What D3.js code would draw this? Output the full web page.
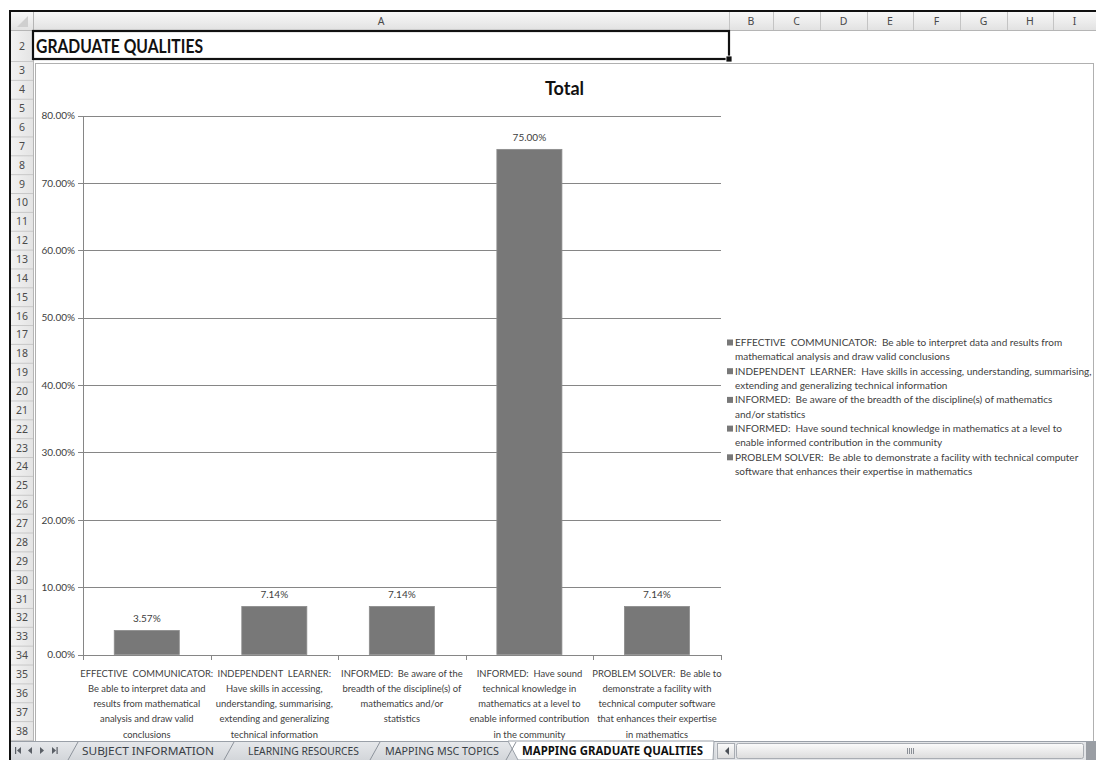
<!DOCTYPE html>
<html>
<head>
<meta charset="utf-8">
<script src="https://cdn.jsdelivr.net/npm/d3@7"></script>
<style>
  html, body { margin: 0; padding: 0; background: #fff; overflow: hidden; }
  svg { display: block; }
  text { white-space: pre; }
</style>
</head>
<body>
<svg id="sheet" width="1096" height="760"></svg>
<script>
// ---------------- data ----------------
const categories = [
  "EFFECTIVE  COMMUNICATOR:  Be able to interpret data and results from mathematical analysis and draw valid conclusions",
  "INDEPENDENT  LEARNER:  Have skills in accessing, understanding, summarising, extending and generalizing technical information",
  "INFORMED:  Be aware of the breadth of the discipline(s) of mathematics and/or statistics",
  "INFORMED:  Have sound technical knowledge in mathematics at a level to enable informed contribution in the community",
  "PROBLEM SOLVER:  Be able to demonstrate a facility with technical computer software that enhances their expertise in mathematics"
];
const values = [3.57, 7.14, 7.14, 75.00, 7.14];
const yTicks = [0, 10, 20, 30, 40, 50, 60, 70, 80];

// wrapped category text under the x axis
const axisLabelLines = [
  ["EFFECTIVE  COMMUNICATOR:", "Be able to interpret data and", "results from mathematical", "analysis and draw valid", "conclusions"],
  ["INDEPENDENT  LEARNER:", "Have skills in accessing,", "understanding, summarising,", "extending and generalizing", "technical information"],
  ["INFORMED:  Be aware of the", "breadth of the discipline(s) of", "mathematics and/or", "statistics"],
  ["INFORMED:  Have sound", "technical knowledge in", "mathematics at a level to", "enable informed contribution", "in the community"],
  ["PROBLEM SOLVER:  Be able to", "demonstrate a facility with", "technical computer software", "that enhances their expertise", "in mathematics"]
];
// wrapped category text in the legend
const legendLines = [
  ["EFFECTIVE  COMMUNICATOR:  Be able to interpret data and results from", "mathematical analysis and draw valid conclusions"],
  ["INDEPENDENT  LEARNER:  Have skills in accessing, understanding, summarising,", "extending and generalizing technical information"],
  ["INFORMED:  Be aware of the breadth of the discipline(s) of mathematics", "and/or statistics"],
  ["INFORMED:  Have sound technical knowledge in mathematics at a level to", "enable informed contribution in the community"],
  ["PROBLEM SOLVER:  Be able to demonstrate a facility with technical computer", "software that enhances their expertise in mathematics"]
];

const chartTitle = "Total";
const sheetTitle = "GRADUATE QUALITIES";
const columnLetters = ["A", "B", "C", "D", "E", "F", "G", "H", "I"];
const rowNumbers = d3.range(2, 39);
const sheetTabs = ["SUBJECT INFORMATION", "LEARNING RESOURCES", "MAPPING MSC TOPICS", "MAPPING GRADUATE QUALITIES"];
const activeTab = 3;

// ---------------- drawing ----------------
const W = 1096, H = 760;
const svg = d3.select("#sheet");
const chartFont = "Lato, 'Open Sans', sans-serif";
const uiFont = "'Noto Sans', 'DejaVu Sans', sans-serif";
const ink = "#404040";
const barFill = "#787878";

const defs = svg.append("defs");
const hdrGrad = defs.append("linearGradient").attr("id", "hdr").attr("x1", 0).attr("y1", 0).attr("x2", 0).attr("y2", 1);
hdrGrad.append("stop").attr("offset", "0%").attr("stop-color", "#f8f8f8");
hdrGrad.append("stop").attr("offset", "100%").attr("stop-color", "#e2e2e2");
const rowGrad = defs.append("linearGradient").attr("id", "rowhdr").attr("x1", 0).attr("y1", 0).attr("x2", 1).attr("y2", 0);
rowGrad.append("stop").attr("offset", "0%").attr("stop-color", "#f2f2f2");
rowGrad.append("stop").attr("offset", "100%").attr("stop-color", "#e4e4e4");
const tabGrad = defs.append("linearGradient").attr("id", "tabbar").attr("x1", 0).attr("y1", 0).attr("x2", 0).attr("y2", 1);
tabGrad.append("stop").attr("offset", "0%").attr("stop-color", "#e6e8eb");
tabGrad.append("stop").attr("offset", "100%").attr("stop-color", "#d3d6da");
const thumbGrad = defs.append("linearGradient").attr("id", "thumb").attr("x1", 0).attr("y1", 0).attr("x2", 0).attr("y2", 1);
thumbGrad.append("stop").attr("offset", "0%").attr("stop-color", "#fbfbfb");
thumbGrad.append("stop").attr("offset", "100%").attr("stop-color", "#dcdcdc");

svg.append("rect").attr("width", W).attr("height", H).attr("fill", "#fff");

// --- window frame ---
svg.append("rect").attr("x", 9).attr("y", 10).attr("width", W - 9).attr("height", 2).attr("fill", "#111");
svg.append("rect").attr("x", 9).attr("y", 10).attr("width", 2).attr("height", H - 10).attr("fill", "#111");

// --- column headers ---
const colEdges = [33, 729, 773, 820, 867, 913, 960, 1007, 1053, 1100];
const colHdrTop = 12, colHdrBottom = 30;
svg.append("rect").attr("x", 11).attr("y", colHdrTop).attr("width", W - 11).attr("height", colHdrBottom - colHdrTop)
  .attr("fill", "url(#hdr)");
svg.append("line").attr("x1", 11).attr("x2", W).attr("y1", colHdrBottom + 0.5).attr("y2", colHdrBottom + 0.5)
  .attr("stroke", "#b5b5b5");
svg.selectAll("line.coldiv").data(colEdges).join("line").attr("class", "coldiv")
  .attr("x1", d => d + 0.5).attr("x2", d => d + 0.5).attr("y1", colHdrTop).attr("y2", colHdrBottom)
  .attr("stroke", "#c4c4c4");
svg.selectAll("text.col").data(columnLetters).join("text").attr("class", "col")
  .attr("x", (d, i) => (colEdges[i] + Math.min(colEdges[i + 1], W)) / 2)
  .attr("y", 25).attr("text-anchor", "middle")
  .attr("font-family", uiFont).attr("font-size", 10.5).attr("fill", "#4a4a4a").text(d => d);
// corner triangle
svg.append("path").attr("d", "M28,16 L28,27 L17,27 Z").attr("fill", "#cfcfcf");

// --- row headers ---
const row2Top = 31, row3Top = 61, rowH = 18.86;
const rowTop = r => r === 2 ? row2Top : row3Top + (r - 3) * rowH;
const rowBottom = r => r === 2 ? row3Top : row3Top + (r - 2) * rowH;
svg.append("rect").attr("x", 11).attr("y", row2Top).attr("width", 22).attr("height", H - row2Top)
  .attr("fill", "url(#rowhdr)");
svg.append("line").attr("x1", 33.5).attr("x2", 33.5).attr("y1", colHdrTop).attr("y2", H).attr("stroke", "#b5b5b5");
svg.selectAll("line.rowdiv").data(rowNumbers).join("line").attr("class", "rowdiv")
  .attr("x1", 11).attr("x2", 33).attr("y1", d => rowBottom(d) + 0.5).attr("y2", d => rowBottom(d) + 0.5)
  .attr("stroke", "#c8c8c8");
svg.selectAll("text.row").data(rowNumbers).join("text").attr("class", "row")
  .attr("x", 22).attr("y", d => (rowTop(d) + rowBottom(d)) / 2 + 4).attr("text-anchor", "middle")
  .attr("font-family", uiFont).attr("font-size", 10.5).attr("fill", "#4a4a4a").text(d => d);

// --- cell A2 with heading ---
svg.append("rect").attr("x", 33).attr("y", 31).attr("width", 696).attr("height", 28)
  .attr("fill", "#fff").attr("stroke", "#111").attr("stroke-width", 2.2);
svg.append("rect").attr("x", 726).attr("y", 56).attr("width", 6).attr("height", 6).attr("fill", "#111")
  .attr("stroke", "#fff").attr("stroke-width", 0.8);
svg.append("text").attr("x", 36).attr("y", 53).attr("font-family", chartFont).attr("font-weight", 700)
  .attr("font-size", 18.5).attr("fill", "#111").attr("textLength", 167).attr("lengthAdjust", "spacingAndGlyphs")
  .text(sheetTitle);

// --- chart area ---
svg.append("rect").attr("x", 35.5).attr("y", 63.5).attr("width", 1058).attr("height", 720)
  .attr("fill", "#fff").attr("stroke", "#b0b0b0");

svg.append("text").attr("x", 564.5).attr("y", 95).attr("text-anchor", "middle")
  .attr("font-family", chartFont).attr("font-weight", 700).attr("font-size", 18).attr("fill", "#111")
  .text(chartTitle);

const plot = { left: 83, right: 720.7, top: 115.7, bottom: 654.5 };
const y = d3.scaleLinear().domain([0, 80]).range([plot.bottom, plot.top]);
const x = d3.scaleBand().domain(categories).range([plot.left, plot.right])
  .paddingInner(0.49).paddingOuter(0.245);
const edges = d3.scaleLinear().domain([0, categories.length]).range([plot.left, plot.right]);

// gridlines
svg.append("g").attr("transform", `translate(${plot.left},0)`)
  .call(d3.axisLeft(y).tickValues(yTicks).tickSize(-(plot.right - plot.left)).tickFormat(""))
  .call(g => g.select(".domain").remove())
  .call(g => g.selectAll(".tick line").attr("stroke", "#868686").attr("shape-rendering", "crispEdges"));

// bars
svg.append("g").selectAll("rect").data(values).join("rect")
  .attr("x", (d, i) => x(categories[i]))
  .attr("width", x.bandwidth())
  .attr("y", d => y(d))
  .attr("height", d => y(0) - y(d))
  .attr("fill", barFill).attr("stroke", "#8c8c8c").attr("stroke-width", 0.8);

// value labels
svg.append("g").selectAll("text").data(values).join("text")
  .attr("x", (d, i) => x(categories[i]) + x.bandwidth() / 2)
  .attr("y", d => y(d) - 8.5)
  .attr("text-anchor", "middle").attr("font-family", chartFont).attr("font-size", 10).attr("fill", ink)
  .text(d => d3.format(".2f")(d) + "%");

// y axis
svg.append("g").attr("transform", `translate(${plot.left},0)`)
  .call(d3.axisLeft(y).tickValues(yTicks).tickSize(5).tickPadding(3).tickFormat(d => d3.format(".2f")(d) + "%"))
  .call(g => g.select(".domain").attr("stroke", "#868686").attr("shape-rendering", "crispEdges"))
  .call(g => g.selectAll(".tick line").attr("stroke", "#868686").attr("shape-rendering", "crispEdges"))
  .call(g => g.selectAll(".tick text").attr("font-family", chartFont).attr("font-size", 10).attr("fill", ink));

// x axis with ticks on category boundaries
svg.append("g").attr("transform", `translate(0,${plot.bottom})`)
  .call(d3.axisBottom(edges).tickValues(d3.range(0, categories.length + 1)).tickSize(5).tickSizeOuter(0).tickFormat(""))
  .call(g => g.select(".domain").attr("stroke", "#868686").attr("shape-rendering", "crispEdges"))
  .call(g => g.selectAll(".tick line").attr("stroke", "#868686").attr("shape-rendering", "crispEdges"));

// category labels
const catLabels = svg.append("g").selectAll("text").data(axisLabelLines).join("text")
  .attr("text-anchor", "middle").attr("font-family", chartFont).attr("font-size", 9.4).attr("fill", ink)
  .attr("transform", (d, i) => `translate(${x(categories[i]) + x.bandwidth() / 2},0)`);
catLabels.selectAll("tspan").data(d => d).join("tspan")
  .attr("x", 0).attr("y", (d, j) => 676.5 + j * 15.3).text(d => d);

// legend
const legend = svg.append("g").attr("transform", "translate(727,0)");
const items = legend.selectAll("g").data(legendLines).join("g")
  .attr("transform", (d, i) => `translate(0,${342.5 + i * 28.7})`);
items.append("rect").attr("x", 0).attr("y", -3).attr("width", 6).attr("height", 6).attr("fill", barFill);
items.append("text").attr("font-family", chartFont).attr("font-size", 10).attr("fill", ink)
  .selectAll("tspan").data(d => d).join("tspan")
  .attr("x", 8).attr("y", (d, j) => 3.4 + j * 14.3).text(d => d);

// --- sheet tab bar ---
const barTop = 741;
svg.append("rect").attr("x", 11).attr("y", barTop).attr("width", W - 11).attr("height", H - barTop)
  .attr("fill", "url(#tabbar)");
svg.append("line").attr("x1", 11).attr("x2", W).attr("y1", barTop + 0.5).attr("y2", barTop + 0.5).attr("stroke", "#9aa0a8");

// navigation arrows
const navY = barTop + 9.5;
const nav = svg.append("g").attr("fill", "#5a5f66");
nav.append("rect").attr("x", 15).attr("y", navY - 3.5).attr("width", 1.2).attr("height", 7);
nav.append("path").attr("d", `M17,${navY} L21,${navY - 3.5} L21,${navY + 3.5} Z`);
nav.append("path").attr("d", `M28,${navY} L32,${navY - 3.5} L32,${navY + 3.5} Z`);
nav.append("path").attr("d", `M44,${navY} L40,${navY - 3.5} L40,${navY + 3.5} Z`);
nav.append("path").attr("d", `M56,${navY} L52,${navY - 3.5} L52,${navY + 3.5} Z`);
nav.append("rect").attr("x", 56.5).attr("y", navY - 3.5).attr("width", 1.2).attr("height", 7);

const tabSpecs = [
  { x0: 70, x1: 226, tx0: 82, tx1: 214 },
  { x0: 226, x1: 372, tx0: 248, tx1: 359 },
  { x0: 372, x1: 508, tx0: 385, tx1: 499 },
  { x0: 508, x1: 714, tx0: 522, tx1: 703 }
];
const tabs = svg.append("g").selectAll("g").data(sheetTabs).join("g");
tabs.filter((d, i) => i === activeTab).append("path")
  .attr("d", () => { const s = tabSpecs[activeTab];
    return `M${s.x0},${barTop} L${s.x1},${barTop} L${s.x1 - 1},${H} L${s.x0 + 10},${H} Z`; })
  .attr("fill", "#fff").attr("stroke", "#9aa0a8");
tabs.append("path")
  .attr("d", (d, i) => { const s = tabSpecs[i];
    return `M${s.x0 - 2},${H} L${s.x0 + 8},${barTop + 1}`; })
  .attr("stroke", "#8d939b").attr("fill", "none");
tabs.append("text")
  .attr("x", (d, i) => tabSpecs[i].tx0).attr("y", barTop + 14)
  .attr("font-family", uiFont).attr("font-size", 11.5)
  .attr("font-weight", (d, i) => i === activeTab ? 700 : 400)
  .attr("fill", (d, i) => i === activeTab ? "#111" : "#3a3f46")
  .attr("textLength", (d, i) => tabSpecs[i].tx1 - tabSpecs[i].tx0).attr("lengthAdjust", "spacingAndGlyphs")
  .text(d => d);

// horizontal scrollbar
svg.append("rect").attr("x", 716).attr("y", barTop + 1).attr("width", W - 716).attr("height", H - barTop - 1)
  .attr("fill", "#e3e5e8");
svg.append("rect").attr("x", 717.5).attr("y", barTop + 2.5).attr("width", 17).attr("height", 15)
  .attr("fill", "url(#thumb)").attr("stroke", "#a9adb3");
svg.append("path").attr("d", `M725,${barTop + 10} L729,${barTop + 6} L729,${barTop + 14} Z`).attr("fill", "#4b5057");
svg.append("rect").attr("x", 736.5).attr("y", barTop + 2.5).attr("width", 347).attr("height", 15)
  .attr("fill", "url(#thumb)").attr("stroke", "#a9adb3").attr("rx", 2);
svg.append("g").selectAll("line").data([-3, -1, 1, 3]).join("line")
  .attr("x1", d => 910 + d + 0.5).attr("x2", d => 910 + d + 0.5)
  .attr("y1", barTop + 7).attr("y2", barTop + 13).attr("stroke", "#8a8f96");
svg.append("rect").attr("x", 1086).attr("y", barTop + 1).attr("width", 10).attr("height", H - barTop - 1)
  .attr("fill", "#9a9ea4");
</script>
</body>
</html>
